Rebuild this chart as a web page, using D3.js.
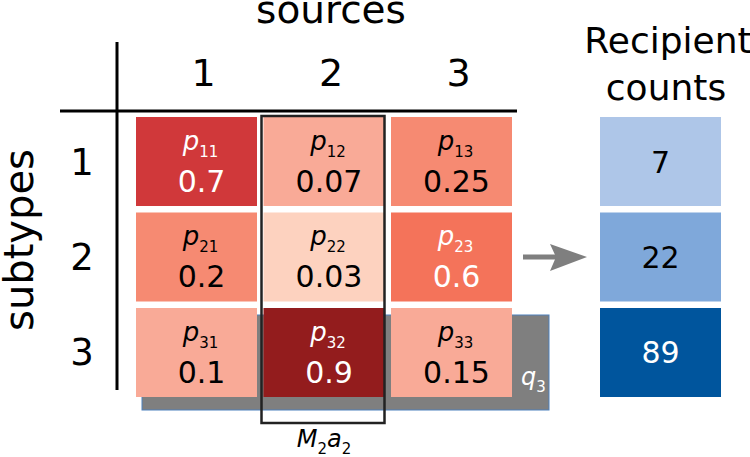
<!DOCTYPE html>
<html>
<head>
<meta charset="utf-8">
<script src="https://cdn.jsdelivr.net/npm/d3@7"></script>
<style>
  body { margin: 0; background: #fff; }
  text { font-family: "DejaVu Sans", Verdana, sans-serif; }
</style>
</head>
<body>
<svg id="chart" width="750" height="457"></svg>
<script>
// data
const sources = [1, 2, 3];
const subtypes = [1, 2, 3];
const probs = [
  [0.7, 0.07, 0.25],
  [0.2, 0.03, 0.6],
  [0.1, 0.9, 0.15]
];
const counts = [7, 22, 89];
const highlightSource = 2;
const highlightSubtype = 3;

const svg = d3.select('#chart');

const x = d3.scaleBand().domain(sources).range([136, 512]).paddingInner(0.051);
const y = d3.scaleBand().domain(subtypes).range([117, 397]).paddingInner(0.068);
const bw = x.bandwidth();
const bh = y.bandwidth();

const redColor = d3.scaleThreshold()
  .domain([0.05, 0.18, 0.5, 0.65, 0.8])
  .range(['#fdd2bf', '#f9aa97', '#f68a72', '#f4735a', '#d0383a', '#931c1d']);
const blueColor = d3.scaleThreshold()
  .domain([15, 50])
  .range(['#aec6e8', '#7fa8da', '#00559d']);

// q row background
svg.append('rect')
  .attr('x', x(1) + 6)
  .attr('y', y(highlightSubtype) + 7)
  .attr('width', x(3) + bw + 37 - (x(1) + 6))
  .attr('height', bh + 6)
  .attr('fill', '#7f7f7f')
  .attr('stroke', '#4f81bd')
  .attr('stroke-width', 1);

svg.append('text')
  .attr('x', 521)
  .attr('y', y(highlightSubtype) + 77)
  .attr('fill', '#fff')
  .call(t => {
    t.append('tspan').text('q').attr('font-size', 24).attr('font-style', 'italic');
    t.append('tspan').text(highlightSubtype).attr('font-size', 15).attr('dy', 7);
  });

// cells
const cells = [];
subtypes.forEach((s, i) => sources.forEach((src, j) => cells.push({ s: s, src: src, v: probs[i][j] })));

const cell = svg.selectAll('.cell').data(cells).enter().append('g').attr('class', 'cell');
cell.append('rect')
  .attr('x', d => x(d.src))
  .attr('y', d => y(d.s))
  .attr('width', bw)
  .attr('height', bh)
  .attr('fill', d => redColor(d.v));

cell.append('text')
  .attr('x', d => x(d.src) + bw / 2 + 4)
  .attr('y', d => y(d.s) + 33)
  .attr('text-anchor', 'middle')
  .attr('fill', d => d.v > 0.5 ? '#fff' : '#000')
  .each(function(d) {
    const t = d3.select(this);
    t.append('tspan').text('p').attr('font-size', 26).attr('font-style', 'italic');
    t.append('tspan').text('' + d.s + d.src).attr('font-size', 15).attr('dy', 7);
  });

cell.append('text')
  .attr('x', d => x(d.src) + bw / 2 + 5)
  .attr('y', d => y(d.s) + 75)
  .attr('text-anchor', 'middle')
  .attr('font-size', 30)
  .attr('fill', d => d.v > 0.5 ? '#fff' : '#000')
  .text(d => d.v);

// highlighted column box
svg.append('rect')
  .attr('x', x(highlightSource) - 2)
  .attr('y', y(1) - 1)
  .attr('width', bw + 2)
  .attr('height', 307)
  .attr('fill', 'none')
  .attr('stroke', '#222')
  .attr('stroke-width', 2.5);

svg.append('text')
  .attr('x', x(highlightSource) + bw / 2)
  .attr('y', 447)
  .attr('text-anchor', 'middle')
  .call(t => {
    t.append('tspan').text('M').attr('font-size', 24).attr('font-style', 'italic');
    t.append('tspan').text(highlightSource).attr('font-size', 15).attr('dy', 7);
    t.append('tspan').text('a').attr('font-size', 24).attr('font-style', 'italic').attr('dy', -7);
    t.append('tspan').text(highlightSource).attr('font-size', 15).attr('dy', 7);
  });

// table lines
svg.append('line')
  .attr('x1', 60).attr('x2', 517).attr('y1', 111).attr('y2', 111)
  .attr('stroke', '#000').attr('stroke-width', 3);
svg.append('line')
  .attr('x1', 117).attr('x2', 117).attr('y1', 42).attr('y2', 390)
  .attr('stroke', '#000').attr('stroke-width', 3);

// axis labels
svg.selectAll('.colLabel').data(sources).enter().append('text')
  .attr('x', d => x(d) + bw / 2 + 7)
  .attr('y', 86)
  .attr('text-anchor', 'middle')
  .attr('font-size', 38)
  .text(d => d);

svg.selectAll('.rowLabel').data(subtypes).enter().append('text')
  .attr('x', 82)
  .attr('y', d => y(d) + bh / 2 + 13)
  .attr('text-anchor', 'middle')
  .attr('font-size', 37)
  .text(d => d);

svg.append('text')
  .attr('x', 331).attr('y', 23)
  .attr('text-anchor', 'middle')
  .attr('font-size', 39)
  .text('sources');

svg.append('text')
  .attr('transform', 'translate(33,240) rotate(-90)')
  .attr('text-anchor', 'middle')
  .attr('font-size', 40)
  .text('subtypes');

// arrow
const ay = y(2) + bh / 2;
svg.append('line')
  .attr('x1', 523).attr('x2', 556)
  .attr('y1', ay).attr('y2', ay)
  .attr('stroke', '#7f7f7f').attr('stroke-width', 5);
svg.append('path')
  .attr('d', 'M550,' + (ay - 13) + 'L587,' + ay + 'L550,' + (ay + 14) + 'L556,' + ay + 'Z')
  .attr('fill', '#7f7f7f');

// recipient counts
const bx = 600, bwid = 121;
svg.selectAll('.count').data(counts).enter().append('rect')
  .attr('x', bx)
  .attr('y', (d, i) => y(subtypes[i]))
  .attr('width', bwid)
  .attr('height', bh)
  .attr('fill', d => blueColor(d));

svg.selectAll('.countLabel').data(counts).enter().append('text')
  .attr('x', bx + bwid / 2)
  .attr('y', (d, i) => y(subtypes[i]) + bh / 2 + 11)
  .attr('text-anchor', 'middle')
  .attr('font-size', 30)
  .attr('fill', d => d > 50 ? '#fff' : '#000')
  .text(d => d);

svg.append('text')
  .attr('x', 668).attr('y', 53)
  .attr('text-anchor', 'middle')
  .attr('font-size', 36)
  .text('Recipient');
svg.append('text')
  .attr('x', 666).attr('y', 100)
  .attr('text-anchor', 'middle')
  .attr('font-size', 36)
  .text('counts');
</script>
</body>
</html>
